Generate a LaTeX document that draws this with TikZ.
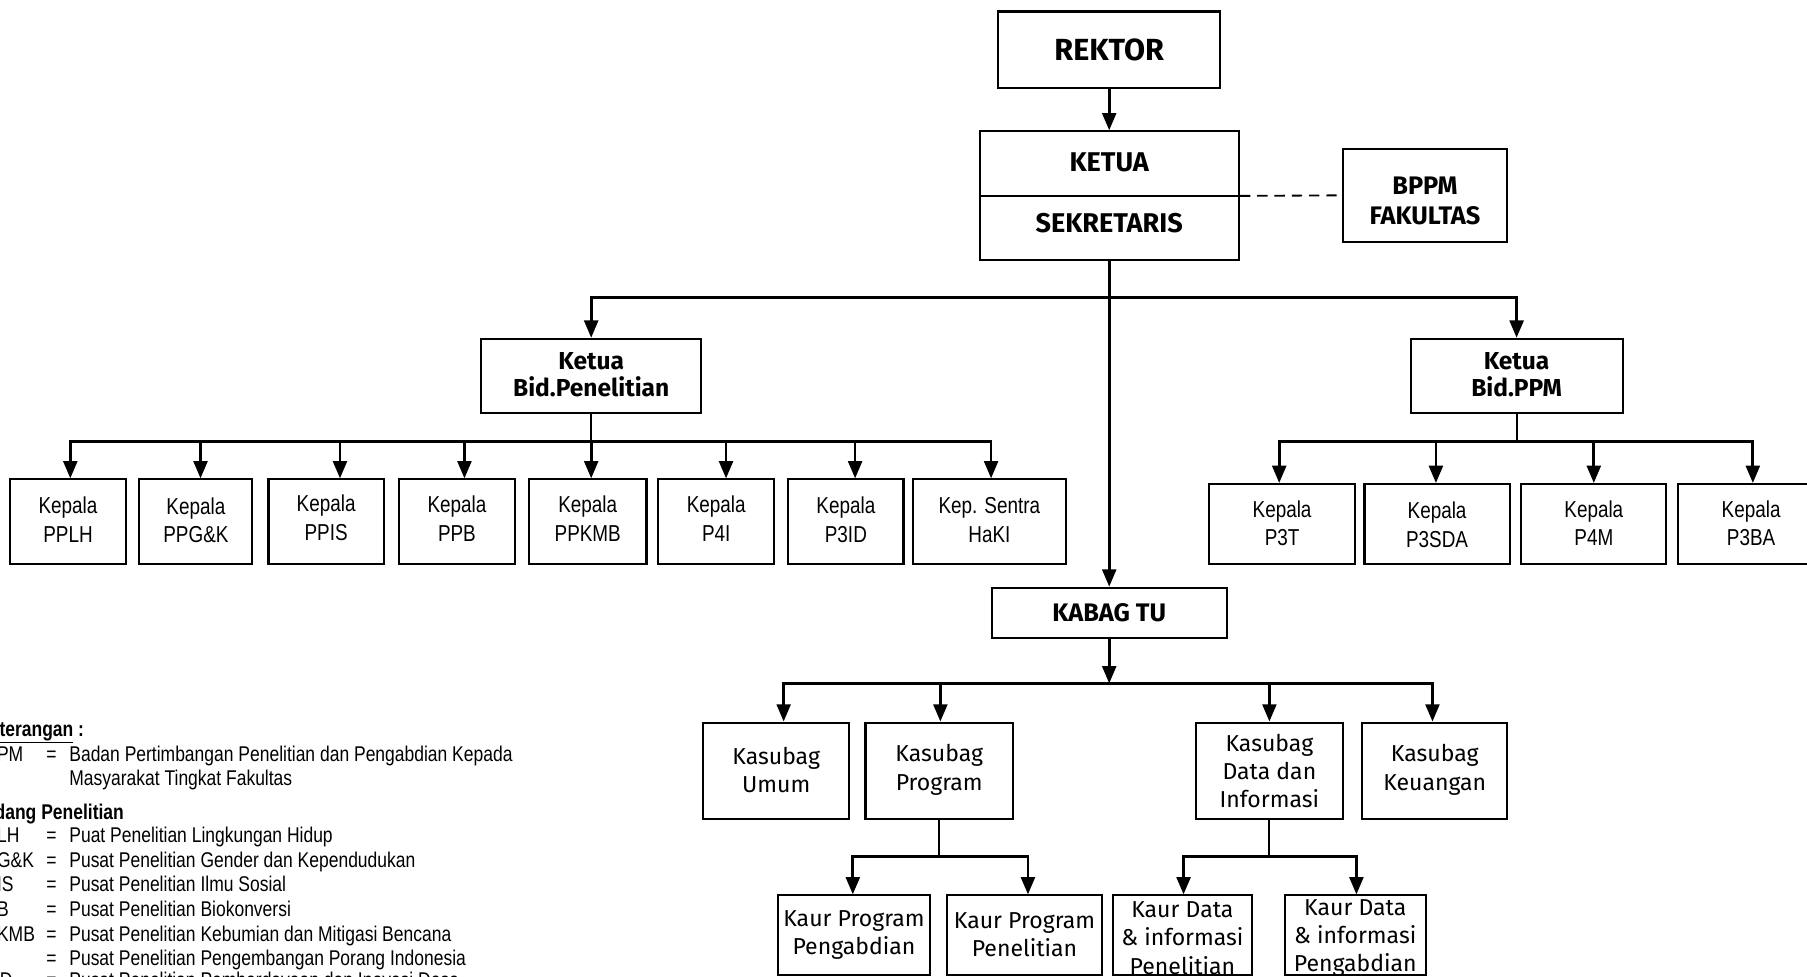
\documentclass[tikz,border=0pt]{standalone}
\usepackage{fontspec}
\setmainfont{Fira Sans}
\newfontfamily\nar{Liberation Sans}[FakeStretch=0.82]
\usetikzlibrary{arrows.meta}
\begin{document}
\begin{tikzpicture}[x=1pt,y=-1pt,
  box/.style={draw,line width=1.8pt,inner sep=0pt},
  txt/.style={inner sep=0pt,align=center},
  bigb/.style={txt,font=\bfseries\fontsize{23.5}{28}\selectfont},
  reg/.style={txt,font=\fontsize{20}{24.5}\selectfont},
  kep/.style={txt,font=\nar\fontsize{20}{25}\selectfont},
  leg/.style={inner sep=0pt,anchor=base west,font=\nar\fontsize{18.5}{21}\selectfont},
  con/.style={line width=2.4pt},
  stem/.style={line width=1.6pt},
  arr/.style={con,-{Triangle[width=12pt,length=15pt]}}]
\useasboundingbox (0,0) rectangle (1568,847);
\clip (0,0) rectangle (1568,847);

% top
\node[box,minimum width=193,minimum height=66] (rektor) at (962.5,43) {};
\node[txt,font=\bfseries\fontsize{26.5}{30}\selectfont] (t-rektor) at (rektor) {REKTOR};
\node[box,minimum width=225,minimum height=112] (ketua) at (962.5,170) {};
\draw[line width=1.8pt] (ketua.west) -- (ketua.east);
\node[bigb] (t-ketua) at (962.5,141) {KETUA};
\node[bigb] (t-sekr) at (962.5,194) {SEKRETARIS};
\node[box,minimum width=143,minimum height=81] (bppm) at (1236.5,169.5) {};
\node[txt,font=\bfseries\fontsize{22}{26}\selectfont] (t-bppm) at (1236.5,174) {BPPM\\FAKULTAS};
\draw[line width=1.6pt,dash pattern=on 9pt off 6pt] (ketua.east) -- (bppm.west);
\draw[arr] (rektor.south) -- (ketua.north);

% bidang
\node[box,minimum width=191,minimum height=64] (bidpen) at (513,326) {};
\node[txt,font=\bfseries\fontsize{21.3}{24}\selectfont] (t-bidpen) at (513,325) {Ketua\\Bid.Penelitian};
\node[box,minimum width=184,minimum height=64] (bidppm) at (1316,326) {};
\node[txt,font=\bfseries\fontsize{21.3}{24}\selectfont] (t-bidppm) at (1316,325) {Ketua\\Bid.PPM};
\coordinate (j1) at (962.5,258);
\draw[arr] (j1) -| (bidpen.north);
\draw[arr] (j1) -| (bidppm.north);

% kabag
\node[box,minimum width=204,minimum height=44] (kabag) at (962.5,532) {};
\node[txt,font=\bfseries\fontsize{22}{26}\selectfont] (t-kabag) at (kabag) {KABAG TU};
\draw[arr] (ketua.south) -- (kabag.north);

% kepala penelitian
\foreach \n/\x/\w in {pplh/59/100, ppgk/170/98, ppis/283/100, ppb/396.5/101, ppkmb/510/102, pfouri/621.5/101, ppid/734/100, sentra/858.5/133}{
  \node[box,minimum width=\w,minimum height=73] (\n) at (\x,452.5) {};
}
\node[kep] (t-pplh) at (59,451) {Kepala\\PPLH};
\node[kep] (t-ppgk) at (170,451.5) {Kepala\\PPG\&K};
\node[kep] (t-ppis) at (283,449) {Kepala\\PPIS};
\node[kep] (t-ppb) at (396.5,450) {Kepala\\PPB};
\node[kep] (t-ppkmb) at (510,450) {Kepala\\PPKMB};
\node[kep] (t-pfouri) at (621.5,450) {Kepala\\P4I};
\node[kep] (t-ppid) at (734,451) {Kepala\\P3ID};
\node[kep] (t-sentra) at (858.5,451) {Kep. Sentra\\HaKI};
\coordinate (b1) at (513,383);
\draw[stem] (bidpen.south) -- (b1);
\draw[arr] (b1) -| ([xshift=2pt]pplh.north);
\draw[arr] (b1) -| ([xshift=4pt]ppgk.north);
\draw[arr] (b1) -| ([xshift=12pt]ppis.north);
\draw[arr] (b1) -| ([xshift=6.5pt]ppb.north);
\draw[arr] (b1) -| ([xshift=3pt]ppkmb.north);
\draw[arr] (b1) -| ([xshift=8.5pt]pfouri.north);
\draw[arr] (b1) -| ([xshift=8pt]ppid.north);
\draw[arr] (b1) -| ([xshift=1.5pt]sentra.north);

% kepala ppm
\node[box,minimum width=127,minimum height=69] (pttt) at (1112.5,454.5) {};
\node[box,minimum width=126,minimum height=69] (psda) at (1247,454.5) {};
\node[box,minimum width=126,minimum height=69] (pfm) at (1383,454.5) {};
\node[box,minimum width=127,minimum height=69] (pba) at (1519.5,454.5) {};
\node[kep] (t-pttt) at (1112.5,454) {Kepala\\P3T};
\node[kep] (t-psda) at (1247,455) {Kepala\\P3SDA};
\node[kep] (t-pfm) at (1383,454) {Kepala\\P4M};
\node[kep] (t-pba) at (1519.5,454) {Kepala\\P3BA};
\coordinate (b2) at (1316,383);
\draw[stem] (bidppm.south) -- (b2);
\draw[arr] (b2) -| ([xshift=-2.5pt]pttt.north);
\draw[arr] (b2) -| ([xshift=-1pt]psda.north);
\draw[arr] (b2) -| (pfm.north);
\draw[arr] (b2) -| ([xshift=1.5pt]pba.north);

% kasubag
\node[box,minimum width=127,minimum height=84] (umum) at (673.5,669) {};
\node[box,minimum width=128,minimum height=84] (prog) at (815,669) {};
\node[box,minimum width=127,minimum height=84] (data) at (1101.5,669) {};
\node[box,minimum width=126,minimum height=84] (keu) at (1245,669) {};
\node[reg] (t-umum) at (673.5,668) {Kasubag\\Umum};
\node[reg] (t-prog) at (815,668) {Kasubag\\Program};
\node[reg] (t-data) at (1101.5,669) {Kasubag\\Data dan\\Informasi};
\node[reg] (t-keu) at (1245,668) {Kasubag\\Keuangan};
\coordinate (b3) at (962.5,593);
\draw[arr] (kabag.south) -- (b3);
\draw[arr] (b3) -| ([xshift=6.5pt]umum.north);
\draw[arr] (b3) -| ([xshift=1pt]prog.north);
\draw[arr] (b3) -| (data.north);
\draw[arr] (b3) -| ([xshift=-2pt]keu.north);

% kaur
\node[box,minimum width=132,minimum height=69] (kp1) at (741,811.5) {};
\node[box,minimum width=134,minimum height=69] (kp2) at (889,811.5) {};
\node[box,minimum width=120,minimum height=69] (kd1) at (1026,811.5) {};
\node[box,minimum width=122,minimum height=69] (kd2) at (1176,811.5) {};
\node[reg] (t-kp1) at (741,811) {Kaur Program\\Pengabdian};
\node[reg] (t-kp2) at (889,811) {Kaur Program\\Penelitian};
\node[reg] (t-kd1) at (1026,814) {Kaur Data\\\& informasi\\Penelitian};
\node[reg] (t-kd2) at (1176,814) {Kaur Data\\\& informasi\\Pengabdian};
\coordinate (b4) at (815,743);
\draw[stem] (prog.south) -- (b4);
\draw[arr] (b4) -| ([xshift=-1pt]kp1.north);
\draw[arr] (b4) -| ([xshift=3pt]kp2.north);
\coordinate (b5) at (1101.5,743);
\draw[stem] (data.south) -- (b5);
\draw[arr] (b5) -| ([xshift=1pt]kd1.north);
\draw[arr] (b5) -| ([xshift=1pt]kd2.north);

% legend
\node[leg] (l0) at (-20,639) {\bfseries\underline{Keterangan} :};
\node[leg] (a1) at (-23,661) {BPPM};
\node[leg] (e1) at (40,661) {=};
\node[leg] (d1) at (60,661) {Badan Pertimbangan Penelitian dan Pengabdian Kepada};
\node[leg] (d1b) at (60,682) {Masyarakat Tingkat Fakultas};
\node[leg] (l1) at (-20,711) {\bfseries Bidang Penelitian};
\node[leg] (a2) at (-23,731) {PPLH};
\node[leg] (e2) at (40,731) {=};
\node[leg] (d2) at (60,731) {Puat Penelitian Lingkungan Hidup};
\node[leg] (a3) at (-23,753) {PPG\&K};
\node[leg] (e3) at (40,753) {=};
\node[leg] (d3) at (60,753) {Pusat Penelitian Gender dan Kependudukan};
\node[leg] (a4) at (-23,774) {PPIS};
\node[leg] (e4) at (40,774) {=};
\node[leg] (d4) at (60,774) {Pusat Penelitian Ilmu Sosial};
\node[leg] (a5) at (-23,795) {PPB};
\node[leg] (e5) at (40,795) {=};
\node[leg] (d5) at (60,795) {Pusat Penelitian Biokonversi};
\node[leg] (a6) at (-23,817) {PPKMB};
\node[leg] (e6) at (40,817) {=};
\node[leg] (d6) at (60,817) {Pusat Penelitian Kebumian dan Mitigasi Bencana};
\node[leg] (a7) at (-23,838) {P4I};
\node[leg] (e7) at (40,838) {=};
\node[leg] (d7) at (60,838) {Pusat Penelitian Pengembangan Porang Indonesia};
\node[leg] (a8) at (-23,857) {P3ID};
\node[leg] (e8) at (40,857) {=};
\node[leg] (d8) at (60,857) {Pusat Penelitian Pemberdayaan dan Inovasi Desa};
\end{tikzpicture}
\end{document}
